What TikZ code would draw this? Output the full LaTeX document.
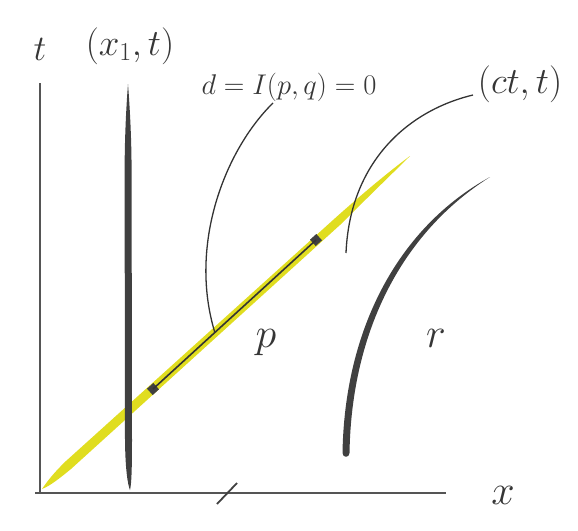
\RequirePackage{fix-cm}
\documentclass[tikz,border=0pt]{standalone}
\definecolor{inkc}{HTML}{404040}
\definecolor{yel}{HTML}{E0DD1F}
\definecolor{labc}{HTML}{363636}
\definecolor{leadc}{HTML}{333333}
\definecolor{axc}{HTML}{555555}
\begin{document}
\begin{tikzpicture}[x=1pt,y=-1pt,
  ink/.style={fill=inkc, draw=none},
  lbl/.style={inner sep=0pt, anchor=base, text=labc},
  leader/.style={draw=leadc, line width=1.3pt},
  axis/.style={draw=axc, line width=1.4pt},
  seg/.style={draw=leadc, line width=1.6pt},
  marker/.style={fill=inkc, draw=none, minimum size=8.5pt, inner sep=0pt, rotate=42.1}]
\useasboundingbox (0,0) rectangle (578,530);
% axes
\coordinate (tTop) at (40,83);
\coordinate (tBot) at (40,493);
\coordinate (xL) at (35,493);
\coordinate (xR) at (446,493);
\draw[axis] (tTop) -- (tBot);
\draw[axis] (xL) -- (xR);
% tick
\coordinate (tk1) at (217,504);
\coordinate (tk2) at (237,483);
\draw[axis, draw=inkc, line width=1.8pt] (tk1) -- (tk2);
% yellow light line
\fill[yel] (42,489) .. controls (50,477) and (58,469) .. (64.8,462.1)
  -- (335.8,217.5) .. controls (370,187) and (395,167) .. (410,156)
  .. controls (397,169) and (372,193) .. (341.4,223.7)
  -- (71.1,468.9) .. controls (60,478) and (50,486) .. (42,489) -- cycle;
% vertical world line
\fill[inkc] (128,84) .. controls (126,110) and (124.6,140) .. (124.6,175)
  -- (125,440) .. controls (125.3,468) and (127.5,484) .. (130,490)
  .. controls (131.5,484) and (132,468) .. (132,440)
  -- (131.6,175) .. controls (131.6,140) and (130,110) .. (128,84) -- cycle;
% curved world line r
\fill[inkc] (342.5,453) .. controls (344.5,330) and (397.5,227.7) .. (490,177)
  .. controls (402.5,232.3) and (351.5,330.4) .. (349.5,453)
  .. controls (349.5,458) and (342.5,458) .. (342.5,453) -- cycle;
% segment on light line
\node[marker] (C) at (153,389) {};
\node[marker] (D) at (316,240) {};
\draw[seg] (C.center) -- (D.center);
% leaders
\coordinate (dS) at (273,103);
\coordinate (dE) at (215,333);
\draw[leader] (dS) .. controls (225,150) and (188,245) .. (dE);
\coordinate (cS) at (346,253);
\coordinate (cE) at (473,95);
\draw[leader] (cS) .. controls (350,160) and (410,110) .. (cE);
% labels
\node[lbl, font=\fontsize{36}{40}\selectfont] (tlab) at (40,60) {$t$};
\node[lbl, font=\fontsize{37}{40}\selectfont] (x1lab) at (130,55) {$(x_1,t)$};
\node[lbl, font=\fontsize{28.5}{31}\selectfont] (dlab) at (289,94) {$d=I(p,q)=0$};
\node[lbl, font=\fontsize{37}{40}\selectfont] (ctlab) at (520,93) {$(ct,t)$};
\node[lbl, font=\fontsize{42}{44}\selectfont] (plab) at (266,347) {$p$};
\node[lbl, font=\fontsize{42}{44}\selectfont] (rlab) at (436,347) {$r$};
\node[lbl, font=\fontsize{42}{44}\selectfont] (xlab) at (503,504) {$x$};
\end{tikzpicture}
\end{document}
